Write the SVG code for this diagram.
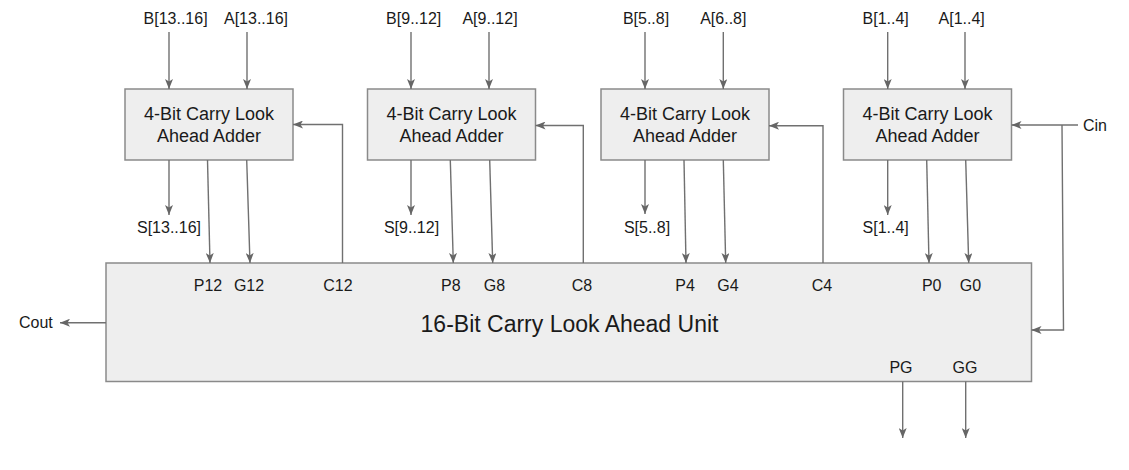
<svg xmlns="http://www.w3.org/2000/svg" width="1129" height="470" viewBox="0 0 1129 470">
<defs>
<marker id="ah" viewBox="0 0 10 8" refX="10" refY="4" markerWidth="10" markerHeight="8" markerUnits="userSpaceOnUse" orient="auto">
<path d="M0,0 L10,4 L0,8 L2.5,4 Z" fill="#666666"/>
</marker>
<style>
.box{fill:#eeeeee;stroke:#8a8a8a;stroke-width:1.5}
.w{fill:none;stroke:#707070;stroke-width:1.4}
.a{marker-end:url(#ah)}
text{font-family:"Liberation Sans",Arial,sans-serif;fill:#1a1a1a}
.lb{font-size:16px;text-anchor:middle}
.bt{font-size:18px;text-anchor:middle}
.tt{font-size:23px;text-anchor:middle}
</style>
</defs>
<rect width="1129" height="470" fill="#ffffff"/>

<g id="cla-unit">
<rect class="box" x="106" y="263" width="925.5" height="118.5"/>
<text class="tt" x="569.5" y="332">16-Bit Carry Look Ahead Unit</text>
<text class="lb" x="208" y="291">P12</text>
<text class="lb" x="249" y="291">G12</text>
<text class="lb" x="338" y="291">C12</text>
<text class="lb" x="450.8" y="291">P8</text>
<text class="lb" x="494.5" y="291">G8</text>
<text class="lb" x="582" y="291">C8</text>
<text class="lb" x="685" y="291">P4</text>
<text class="lb" x="728" y="291">G4</text>
<text class="lb" x="822" y="291">C4</text>
<text class="lb" x="931.7" y="291">P0</text>
<text class="lb" x="970.5" y="291">G0</text>
<text class="lb" x="901" y="373">PG</text>
<text class="lb" x="965" y="373">GG</text>
</g>

<g id="adder1">
<rect class="box" x="125" y="89" width="168" height="71"/>
<text class="bt" x="209" y="120">4-Bit Carry Look</text>
<text class="bt" x="209" y="141.7">Ahead Adder</text>
</g>
<g id="adder2">
<rect class="box" x="367.5" y="89" width="168" height="71"/>
<text class="bt" x="451.5" y="120">4-Bit Carry Look</text>
<text class="bt" x="451.5" y="141.7">Ahead Adder</text>
</g>
<g id="adder3">
<rect class="box" x="601" y="89" width="168" height="71"/>
<text class="bt" x="685" y="120">4-Bit Carry Look</text>
<text class="bt" x="685" y="141.7">Ahead Adder</text>
</g>
<g id="adder4">
<rect class="box" x="843.5" y="89" width="168" height="71"/>
<text class="bt" x="927.5" y="120">4-Bit Carry Look</text>
<text class="bt" x="927.5" y="141.7">Ahead Adder</text>
</g>

<g id="labels">
<text class="lb" x="175.6" y="24">B[13..16]</text>
<text class="lb" x="256" y="24">A[13..16]</text>
<text class="lb" x="413.7" y="24">B[9..12]</text>
<text class="lb" x="490" y="24">A[9..12]</text>
<text class="lb" x="646" y="24">B[5..8]</text>
<text class="lb" x="723.3" y="24">A[6..8]</text>
<text class="lb" x="885.7" y="24">B[1..4]</text>
<text class="lb" x="961.7" y="24">A[1..4]</text>
<text class="lb" x="169" y="233">S[13..16]</text>
<text class="lb" x="411.5" y="233">S[9..12]</text>
<text class="lb" x="647" y="233">S[5..8]</text>
<text class="lb" x="885.7" y="233">S[1..4]</text>
<text x="19" y="328" font-size="16">Cout</text>
<text x="1083" y="131" font-size="16">Cin</text>
</g>

<g id="connectors">
<path class="w a" d="M169,32 L169,89"/>
<path class="w a" d="M247,32 L247,89"/>
<path class="w a" d="M169,160 L169,215"/>
<path class="w a" d="M207.5,160 L210,263"/>
<path class="w a" d="M246.7,160 L250,263"/>
<path class="w a" d="M342.5,263 L342.5,124.5 L293,124.5"/>

<path class="w a" d="M411,32 L411,89"/>
<path class="w a" d="M489,32 L489,89"/>
<path class="w a" d="M411,160 L411,215"/>
<path class="w a" d="M450.3,160 L453.3,263"/>
<path class="w a" d="M489.7,160 L492.7,263"/>
<path class="w a" d="M583.3,263 L583.3,125.5 L535.5,125.5"/>

<path class="w a" d="M645,32 L645,89"/>
<path class="w a" d="M723.3,32 L723.3,89"/>
<path class="w a" d="M645,160 L645,214"/>
<path class="w a" d="M684,160 L686,263"/>
<path class="w a" d="M723.3,160 L725.7,263"/>
<path class="w a" d="M823,263 L823,125.7 L769,125.7"/>

<path class="w a" d="M887.7,32 L887.7,89"/>
<path class="w a" d="M965,32 L965,89"/>
<path class="w a" d="M887.7,160 L887.7,215"/>
<path class="w a" d="M926.7,160 L929,263"/>
<path class="w a" d="M965.7,160 L968.7,263"/>
<path class="w a" d="M1078,125 L1011.5,125"/>
<path class="w a" d="M1062,125 L1063.5,330 L1031.5,330"/>

<path class="w a" d="M106,322.7 L60,322.7"/>
<path class="w a" d="M902.7,381.5 L902.7,438"/>
<path class="w a" d="M965.7,381.5 L965.7,438"/>
</g>
</svg>
